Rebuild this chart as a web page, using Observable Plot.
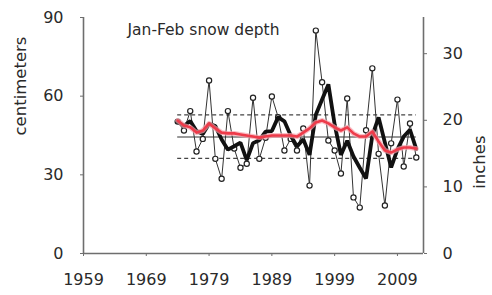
<!DOCTYPE html>
<html><head><meta charset="utf-8">
<script src="https://cdn.jsdelivr.net/npm/d3@7"></script>
<script src="https://cdn.jsdelivr.net/npm/@observablehq/plot@0.6"></script>
<style>
html,body{margin:0;padding:0;background:#fff;}
</style>
</head><body><div id="chart"></div>
<script>
const years = [1974,1975,1976,1977,1978,1979,1980,1981,1982,1983,1984,1985,1986,1987,1988,1989,1990,1991,1992,1993,1994,1995,1996,1997,1998,1999,2000,2001,2002,2003,2004,2005,2006,2007,2008,2009,2010,2011,2012];
const annualCm = [50.3,46.9,54.3,38.9,43.7,66.0,36.1,28.5,54.3,40.0,32.7,34.2,59.4,36.1,44.1,59.9,52.0,39.3,43.7,39.3,47.7,25.9,85.0,65.3,43.1,39.3,30.5,59.1,21.4,17.5,47.0,70.6,38.0,18.3,42.0,58.7,33.2,49.6,36.6];
const mean3Cm = [50.3,48.6,50.5,46.7,45.6,49.5,48.6,43.5,39.6,40.9,42.3,35.6,42.1,43.2,46.5,46.7,52.0,50.4,45.0,40.8,43.6,37.6,52.9,58.7,64.5,49.2,37.6,43.0,37.0,32.7,28.6,45.0,51.9,42.3,32.8,39.7,44.6,47.2,39.8];
const trendCm = [50.7,48.8,48.1,46.1,46.9,49.6,47.7,46.1,45.8,45.8,45.4,45.0,44.6,44.2,44.6,45.0,45.0,45.0,45.0,44.6,46.1,47.7,50.0,50.7,49.6,48.1,46.9,48.1,45.8,44.6,44.6,46.5,42.7,39.3,38.5,39.7,40.4,40.4,40.0];
const meanCm = [44.4];
const bandCm = [36.3, 52.9];
const cmTicks = [0, 30, 60, 90];
const inchTicks = [0, 10, 20, 30];
const yearTicks = [1959, 1969, 1979, 1989, 1999, 2009];
const xDomain = [1959, 2013.15];
const title = "Jan-Feb snow depth";
const leftLabel = "centimeters";
const rightLabel = "inches";

const annual = years.map((y, i) => ({year: y, cm: annualCm[i]}));
const mean3 = years.map((y, i) => ({year: y, cm: mean3Cm[i]}));
const trend = years.map((y, i) => ({year: y, cm: trendCm[i]}));
const x1 = years[0], x2 = years[years.length - 1];
const axisColor = "#6e6e6e";

const chart = Plot.plot({
  width: 492, height: 295,
  marginLeft: 83, marginRight: 69, marginTop: 17, marginBottom: 42,
  style: {fontFamily: "'DejaVu Sans', Verdana, sans-serif", fontSize: "16px", color: "#2a2a2a", background: "#fff"},
  x: {domain: xDomain},
  y: {domain: [0, 90]},
  marks: [
    Plot.ruleY(bandCm, {x1, x2, stroke: "#444", strokeWidth: 1.2, strokeDasharray: "4,3"}),
    Plot.ruleY(meanCm, {x1, x2, stroke: "#333", strokeWidth: 1.1}),
    Plot.line(annual, {x: "year", y: "cm", stroke: "#333", strokeWidth: 1}),
    Plot.dot(annual, {x: "year", y: "cm", r: 2.6, fill: "white", stroke: "#222", strokeWidth: 1.2}),
    Plot.line(mean3, {x: "year", y: "cm", stroke: "#111", strokeWidth: 3.8, strokeLinejoin: "miter"}),
    Plot.line(trend, {x: "year", y: "cm", stroke: "#f6a3ad", strokeWidth: 5, strokeOpacity: 0.7}),
    Plot.line(trend, {x: "year", y: "cm", stroke: "#ee3b4a", strokeWidth: 2.6}),
    Plot.ruleX([xDomain[0], xDomain[1]], {y1: 0, y2: 90, stroke: axisColor, strokeWidth: 1.6}),
    Plot.ruleY([0], {stroke: axisColor, strokeWidth: 1.6}),
    Plot.axisY(cmTicks, {anchor: "left", tickSize: 3, tickPadding: 17, stroke: axisColor, label: null}),
    Plot.axisY(inchTicks.map(d => d * 2.54), {anchor: "right", tickSize: 3, tickPadding: 16, stroke: axisColor, label: null, tickFormat: d => String(Math.round(d / 2.54))}),
    Plot.axisX(yearTicks, {anchor: "bottom", tickSize: 3, tickPadding: 17, stroke: axisColor, label: null, tickFormat: d => String(d)}),
    Plot.text([leftLabel], {frameAnchor: "left", dx: -63, rotate: -90, fontSize: 16.5, fill: "#2a2a2a"}),
    Plot.text([rightLabel], {frameAnchor: "right", dx: 56, rotate: -90, fontSize: 16.5, fill: "#2a2a2a"}),
    Plot.text([title], {frameAnchor: "top-left", dx: 44, dy: 6, textAnchor: "start", fontSize: 15.5, fill: "#2a2a2a"})
  ]
});
document.getElementById("chart").appendChild(chart);
</script>
</body></html>
